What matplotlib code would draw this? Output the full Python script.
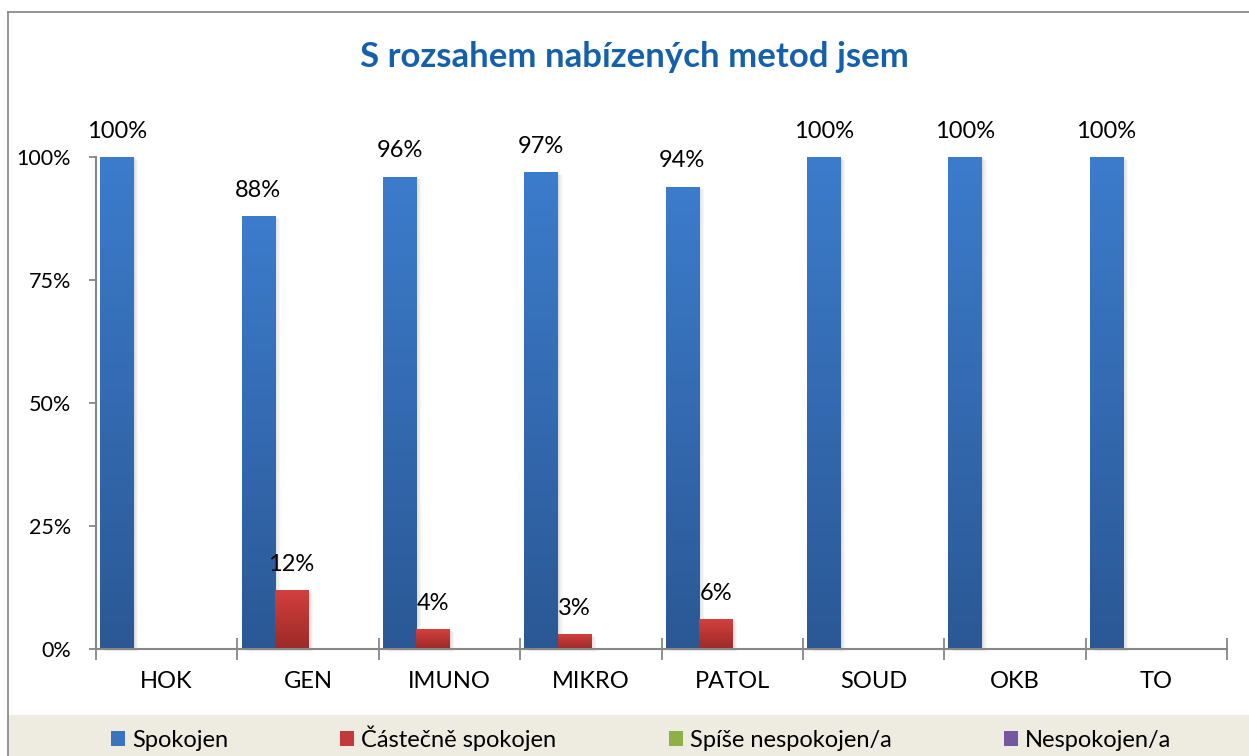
import numpy as np
import matplotlib
matplotlib.use("Agg")
import matplotlib.pyplot as plt
from matplotlib.colors import LinearSegmentedColormap
from matplotlib.patches import Rectangle, Patch
from matplotlib.lines import Line2D
import matplotlib.transforms as mtransforms

plt.rcParams['font.family'] = ['Lato', 'DejaVu Sans']

# ---- data ----
categories = ["HOK", "GEN", "IMUNO", "MIKRO", "PATOL", "SOUD", "OKB", "TO"]
series_names = ["Spokojen", "Částečně spokojen", "Spíše nespokojen/a", "Nespokojen/a"]
spokojen = [1.00, 0.88, 0.96, 0.97, 0.94, 1.00, 1.00, 1.00]
castecne = [0.00, 0.12, 0.04, 0.03, 0.06, 0.00, 0.00, 0.00]
spise_nespokojen = [0, 0, 0, 0, 0, 0, 0, 0]
nespokojen = [0, 0, 0, 0, 0, 0, 0, 0]
title = "S rozsahem nabízených metod jsem"
yticks = [0, 0.25, 0.5, 0.75, 1.0]
ytick_labels = ["0%", "25%", "50%", "75%", "100%"]

series = [spokojen, castecne, spise_nespokojen, nespokojen]
grad_colors = [("#3C7CCC", "#2B5895"), ("#D3403D", "#9C2A28"),
               ("#9EC25A", "#74923A"), ("#8468A8", "#5E4580")]
legend_colors = ["#3A74C0", "#C43A39", "#8DB147", "#7556A0"]

W, H = 1249, 756
fig = plt.figure(figsize=(W / 100, H / 100), dpi=100)
fig.patch.set_facecolor("white")

# legend band and outer border
fig.add_artist(Rectangle((8 / W, 0), 1 - 8 / W, (756 - 715) / H, transform=fig.transFigure,
                         facecolor="#EEECE1", edgecolor="none", zorder=0))
fig.add_artist(Line2D([8 / W, 8 / W], [0, 1 - 12 / H], transform=fig.transFigure,
                      color="#8C8C8C", lw=1.3))
fig.add_artist(Line2D([8 / W, 1], [1 - 12 / H, 1 - 12 / H], transform=fig.transFigure,
                      color="#8C8C8C", lw=1.3))

left, right = 96 / W, 1227 / W
bottom, top = (H - 649) / H, (H - 157) / H
ax = fig.add_axes([left, bottom, right - left, top - bottom])
ax.set_facecolor("none")

n = len(categories)
x = np.arange(n)
bw = 0.235
containers = []
for i, vals in enumerate(series):
    pos = x + (i - 1.5) * bw
    bc = ax.bar(pos, vals, width=bw, color=legend_colors[i], zorder=3, linewidth=0)
    containers.append(bc)

ax.set_xlim(-0.5, n - 0.5)
ax.set_ylim(0, 1)

# gradients & shadows
for i, bc in enumerate(containers):
    cmap = LinearSegmentedColormap.from_list("g%d" % i, [grad_colors[i][1], grad_colors[i][0]])
    for bar in bc:
        h = bar.get_height()
        if h <= 0:
            continue
        bx, bwid = bar.get_x(), bar.get_width()
        for k in range(1, 5):
            off = mtransforms.ScaledTranslation(k * 0.9 / 72, -k * 0.5 / 72, fig.dpi_scale_trans)
            ax.add_patch(Rectangle((bx, 0), bwid, h, transform=ax.transData + off,
                                   facecolor="black", alpha=0.035, edgecolor="none",
                                   zorder=2, clip_on=False))
        im = ax.imshow(np.linspace(1, 0, 256).reshape(-1, 1), cmap=cmap, aspect="auto",
                       extent=[bx, bx + bwid, 0, h], zorder=3.5, interpolation="bicubic")
        im.set_clip_path(bar)
        # data label
        ax.annotate(f"{round(h * 100):d}%", xy=(bx + bwid / 2, h), xytext=(0, 18.5),
                    textcoords="offset points", ha="center", va="center",
                    fontsize=17, color="black", zorder=5)

ax.set_xlim(-0.5, n - 0.5)
ax.set_ylim(0, 1)

# axes styling
for s in ["top", "right"]:
    ax.spines[s].set_visible(False)
for s in ["left", "bottom"]:
    ax.spines[s].set_color("#878787")
    ax.spines[s].set_linewidth(1.5)
    ax.spines[s].set_zorder(4)

ax.set_yticks(yticks)
ax.set_yticklabels(ytick_labels, fontsize=15.5)
ax.tick_params(axis="y", direction="out", length=5, width=1.3, color="#878787", pad=13)

ax.set_xticks(np.arange(n + 1) - 0.5)
ax.set_xticklabels([])
ax.set_xticks(x, minor=True)
ax.set_xticklabels(categories, minor=True, fontsize=17)
ax.tick_params(axis="x", which="major", direction="inout", length=16, width=1.3, color="#878787")
ax.tick_params(axis="x", which="minor", length=0, pad=15.5)

fig.text(0.508, 1 - 57 / H, title, ha="center", va="center", fontsize=25,
         fontweight="bold", color="#1560AA")

handles = [Patch(facecolor=c, edgecolor="none") for c in legend_colors]
fig.legend(handles, series_names, loc="center", bbox_to_anchor=(641 / W, 1 - 738 / H),
           ncol=4, frameon=False, fontsize=17, handlelength=0.6, handleheight=0.6,
           handletextpad=0.3, columnspacing=4.75, borderpad=0.0)

fig.savefig("out.png", dpi=100)
